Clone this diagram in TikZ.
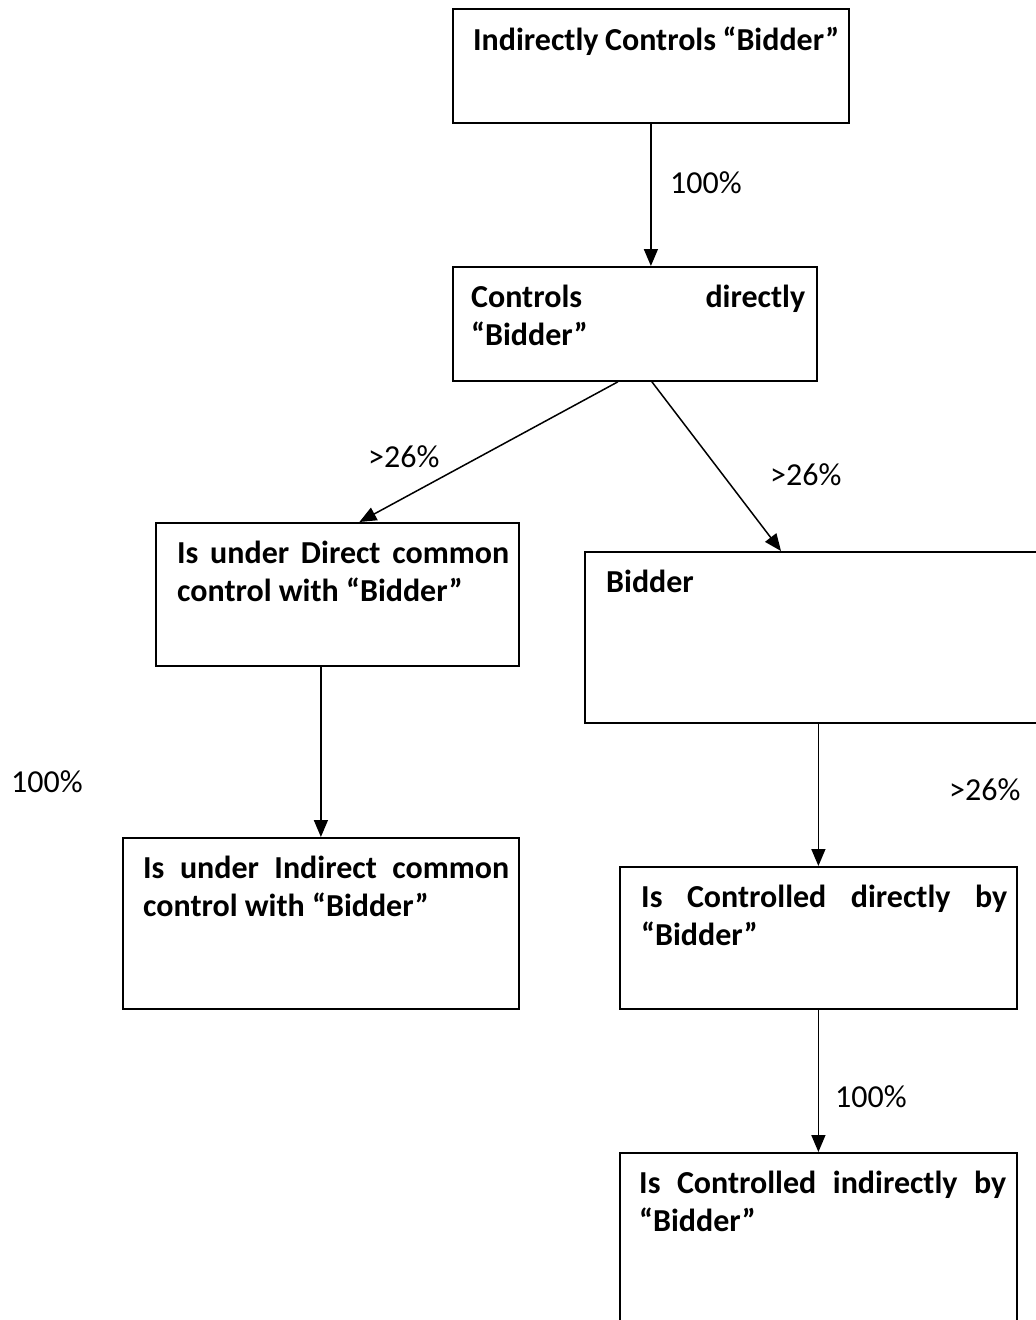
\documentclass[tikz,border=0pt]{standalone}
\usepackage{fontspec}
\setmainfont{Carlito}
\usetikzlibrary{arrows.meta, positioning}

\begin{document}
\begin{tikzpicture}[x=1pt, y=-1pt, >={Triangle[length=17pt, width=14pt]},
  box/.style={draw, line width=1.8pt, anchor=north west, inner sep=0pt},
  boxtext/.style={anchor=north west, inner sep=0pt, align=justify, text width=#1,
    font=\fontsize{32}{37.5}\selectfont\bfseries},
  pct/.style={anchor=west, inner sep=0pt, font=\fontsize{32}{37.5}\selectfont},
  arrow/.style={->, line width=1.5pt}]

  \useasboundingbox (0,0) rectangle (1036,1320);

  % boxes
  \node[box, minimum width=396pt, minimum height=114pt] (indirect)   at (452,8)    {};
  \node[box, minimum width=364pt, minimum height=114pt] (direct)     at (452,266)  {};
  \node[box, minimum width=363pt, minimum height=143pt] (common_dir) at (155,522)  {};
  \node[box, minimum width=470pt, minimum height=171pt] (bidder)     at (584,551)  {};
  \node[box, minimum width=396pt, minimum height=171pt] (common_ind) at (122,837)  {};
  \node[box, minimum width=397pt, minimum height=142pt] (ctrl_dir)   at (619,866)  {};
  \node[box, minimum width=397pt, minimum height=190pt] (ctrl_ind)   at (619,1152) {};

  % box texts
  \node[boxtext=366pt, below right=19pt and 21pt of indirect.north west]   (indirect_t)   {Indirectly Controls “Bidder”};
  \node[boxtext=334pt, below right=19pt and 19pt of direct.north west]     (direct_t)     {Controls directly\linebreak “Bidder”};
  \node[boxtext=332pt, below right=19pt and 22pt of common_dir.north west] (common_dir_t) {Is under Direct common\linebreak control with “Bidder”};
  \node[boxtext=400pt, below right=19pt and 22pt of bidder.north west]     (bidder_t)     {Bidder};
  \node[boxtext=366pt, below right=19pt and 21pt of common_ind.north west] (common_ind_t) {Is under Indirect common\linebreak control with “Bidder”};
  \node[boxtext=366pt, below right=19pt and 22pt of ctrl_dir.north west]   (ctrl_dir_t)   {Is Controlled directly by\linebreak “Bidder”};
  \node[boxtext=367pt, below right=19pt and 20pt of ctrl_ind.north west]   (ctrl_ind_t)   {Is Controlled indirectly by\linebreak “Bidder”};

  % percentages
  \node[pct] (pct_a) at (670,183)  {100\%};
  \node[pct] (pct_b) at (368,457)  {>26\%};
  \node[pct] (pct_c) at (770,475)  {>26\%};
  \node[pct] (pct_d) at (11,782)   {100\%};
  \node[pct] (pct_e) at (949,790)  {>26\%};
  \node[pct] (pct_f) at (835,1097) {100\%};

  \path[arrow]
        (indirect.south)                  edge (indirect.south |- direct.north)
        ([xshift=-17pt]direct.south)      edge ([xshift=22pt]common_dir.north)
        ([xshift=17pt]direct.south)       edge ([xshift=197pt]bidder.north west)
        (common_ind.north |- common_dir.south) edge (common_ind.north)
        (ctrl_dir.north |- bidder.south)  edge (ctrl_dir.north)
        (ctrl_dir.south)                  edge (ctrl_ind.north)
        ;
\end{tikzpicture}
\end{document}
